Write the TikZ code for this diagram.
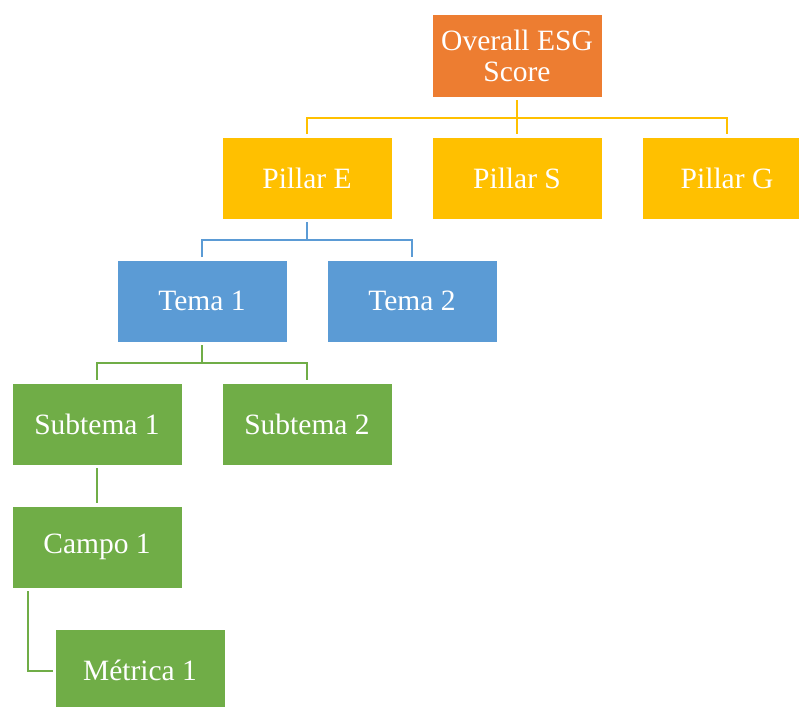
\documentclass[tikz,border=0pt]{standalone}
\usepackage{fontspec}
\setmainfont{Liberation Serif}
\definecolor{esgorange}{HTML}{ED7D31}
\definecolor{esgyellow}{HTML}{FFC000}
\definecolor{esgblue}{HTML}{5B9BD5}
\definecolor{esggreen}{HTML}{70AD47}
\tikzset{
  box/.style={draw=white, line width=0.8pt, text=white, align=center, inner sep=0pt,
    minimum width=170pt, minimum height=82pt, font=\fontsize{29.5}{31}\selectfont},
  orangebox/.style={box, fill=esgorange},
  yellowbox/.style={box, fill=esgyellow},
  bluebox/.style={box, fill=esgblue},
  greenbox/.style={box, fill=esggreen},
  link/.style={line width=2.6pt},
}
\begin{document}
\begin{tikzpicture}[x=1pt,y=-1pt]
\useasboundingbox (0,0) rectangle (799,706);
\clip (0,0) rectangle (799,706);
\node[orangebox, minimum height=83pt] (ov) at (517,55.5) {Overall ESG\\Score};
\node[yellowbox] (pE) at (307,178) {Pillar E};
\node[yellowbox] (pS) at (517,178) {Pillar S};
\node[yellowbox] (pG) at (727,178) {Pillar G};
\node[bluebox] (t1) at (202,301) {Tema 1};
\node[bluebox] (t2) at (412,301) {Tema 2};
\node[greenbox] (s1) at (97,424) {Subtema 1};
\node[greenbox] (s2) at (307,424) {Subtema 2};
\node[greenbox] (c1) at (97,547) {Campo 1};
\node[greenbox] (m1) at (140,670) {Métrica 1};

\coordinate (j1) at (517,118);
\coordinate (j2) at (307,240);
\coordinate (j3) at (202,363);
\coordinate (j4) at (28,671);

\draw[link, esgyellow, shorten <=3pt] (ov.south) -- (j1);
\draw[link, esgyellow, shorten <=2.5pt, shorten >=2.5pt] (pE.north) |- (j1) -| (pG.north);
\draw[link, esgyellow, shorten >=2.5pt] (j1) -- (pS.north);

\draw[link, esgblue, shorten <=3pt] (pE.south) -- (j2);
\draw[link, esgblue, shorten <=2.5pt, shorten >=2.5pt] (t1.north) |- (j2) -| (t2.north);

\draw[link, esggreen, shorten <=3pt] (t1.south) -- (j3);
\draw[link, esggreen, shorten <=2.5pt, shorten >=2.5pt] (s1.north) |- (j3) -| (s2.north);

\draw[link, esggreen, shorten <=3pt, shorten >=2.5pt] (s1.south) -- (c1.north);
\draw[link, esggreen, shorten <=3pt, shorten >=2pt] (c1.south -| j4) -- (j4) -- (j4 -| m1.west);
\end{tikzpicture}
\end{document}
